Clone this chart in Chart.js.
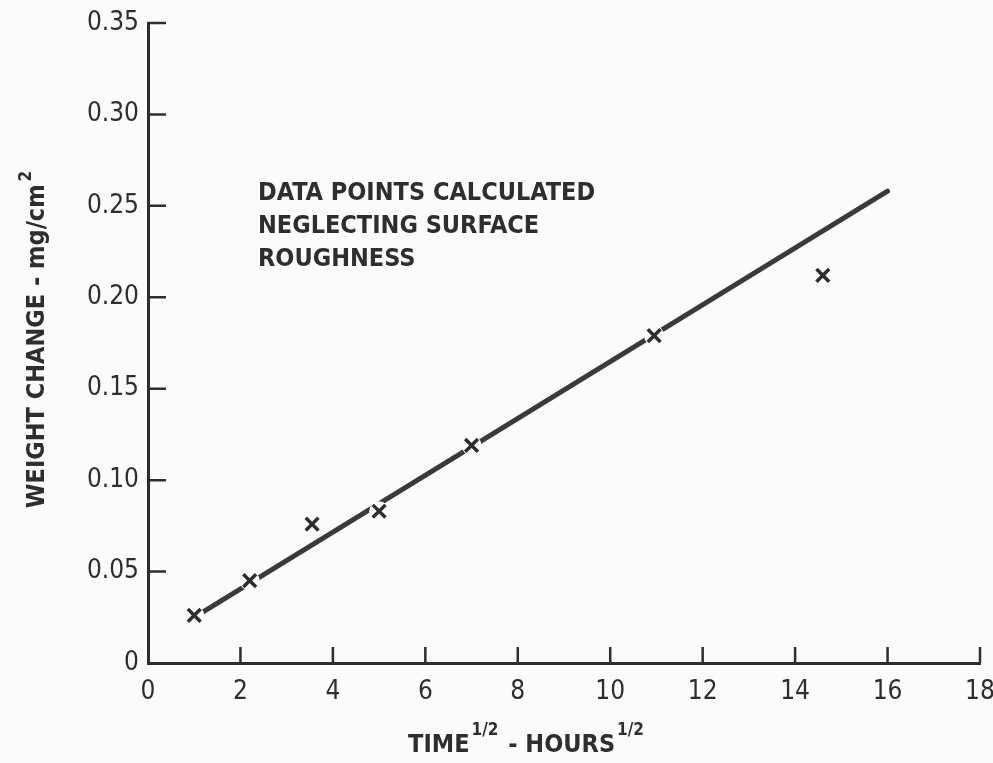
<!DOCTYPE html>
<html>
<head>
<meta charset="utf-8">
<script src="https://cdn.jsdelivr.net/npm/chart.js@4"></script>
<style>
  html, body { margin: 0; padding: 0; background: #fbfbf9; }
  #wrap { width: 993px; height: 763px; position: relative; }
</style>
</head>
<body>
<div id="wrap"><canvas id="chart" width="993" height="763"></canvas></div>
<script>
// data
const timeRoot = [1.0, 2.2, 3.55, 5.0, 7.0, 10.95, 14.6];
const weightChange = [0.026, 0.045, 0.076, 0.083, 0.119, 0.179, 0.212];
const fitX = [1.0, 16.0];
const fitY = [0.025, 0.258];
const xTickValues = [0, 2, 4, 6, 8, 10, 12, 14, 16, 18];
const yTickValues = [0, 0.05, 0.10, 0.15, 0.20, 0.25, 0.30, 0.35];
const yTickLabels = ["0", "0.05", "0.10", "0.15", "0.20", "0.25", "0.30", "0.35"];
const noteLines = ["DATA POINTS CALCULATED", "NEGLECTING SURFACE", "ROUGHNESS"];

const INK = "#2e2e2e";
const BG = "#fbfbf9";
const FONT = "'DejaVu Sans Condensed', 'Liberation Sans Narrow', 'DejaVu Sans', sans-serif";

const pts = timeRoot.map((x, i) => ({ x: x, y: weightChange[i] }));
const fit = fitX.map((x, i) => ({ x: x, y: fitY[i] }));

// inward tick marks, axis titles and the note
const extras = {
  id: "extras",
  afterDraw(chart) {
    const ctx = chart.ctx;
    const xs = chart.scales.x, ys = chart.scales.y;
    const left = chart.chartArea.left, bottom = chart.chartArea.bottom;
    ctx.save();
    ctx.strokeStyle = INK;
    ctx.lineWidth = 2.5;
    ctx.beginPath();
    xTickValues.forEach(v => {
      if (v === 0) return;
      const px = xs.getPixelForValue(v);
      ctx.moveTo(px, bottom);
      ctx.lineTo(px, bottom - 16);
    });
    yTickValues.forEach(v => {
      if (v === 0) return;
      const py = ys.getPixelForValue(v);
      ctx.moveTo(left, py);
      ctx.lineTo(left + 18, py);
    });
    ctx.stroke();

    ctx.fillStyle = INK;
    ctx.textBaseline = "alphabetic";

    // note
    ctx.font = "bold 25px " + FONT;
    ctx.textAlign = "left";
    noteLines.forEach((t, i) => ctx.fillText(t, 258, 200 + i * 33));

    // x title: TIME^1/2 - HOURS^1/2
    const big = "bold 25px " + FONT, small = "bold 17px " + FONT;
    const parts = [["TIME", big, 0], ["1/2", small, -17], [" - HOURS", big, 0], ["1/2", small, -17]];
    let w = 0;
    parts.forEach(p => { ctx.font = p[1]; w += ctx.measureText(p[0]).width + 2; });
    let cx = 527 - w / 2;
    parts.forEach(p => {
      ctx.font = p[1];
      ctx.fillText(p[0], cx, 752 + p[2]);
      cx += ctx.measureText(p[0]).width + 2;
    });

    // y title: WEIGHT CHANGE - mg/cm^2
    ctx.translate(44, 338);
    ctx.rotate(-Math.PI / 2);
    const yparts = [["WEIGHT CHANGE - mg/cm", big, 0], ["2", small, -13]];
    w = 0;
    yparts.forEach(p => { ctx.font = p[1]; w += ctx.measureText(p[0]).width + 3; });
    cx = -w / 2;
    yparts.forEach(p => {
      ctx.font = p[1];
      ctx.fillText(p[0], cx, p[2]);
      cx += ctx.measureText(p[0]).width + 3;
    });
    ctx.restore();
  }
};

new Chart(document.getElementById("chart"), {
  type: "scatter",
  data: {
    datasets: [{
      label: "Data",
      data: pts,
      pointStyle: "crossRot",
      pointRadius: 9,
      pointBorderWidth: 3.5,
      borderColor: INK,
      backgroundColor: INK
    }, {
      label: "gap",
      data: pts,
      pointStyle: "circle",
      pointRadius: 10,
      pointBorderWidth: 0,
      backgroundColor: BG,
      borderColor: BG
    }, {
      label: "Fit",
      data: fit,
      showLine: true,
      pointRadius: 0,
      borderColor: "#3a3a3a",
      borderWidth: 5,
      borderCapStyle: "round"
    }]
  },
  options: {
    responsive: false,
    animation: false,
    layout: { padding: { top: 23, right: 13, left: 0, bottom: 0 } },
    plugins: { legend: { display: false }, tooltip: { enabled: false } },
    scales: {
      x: {
        type: "linear",
        min: 0, max: 18,
        afterBuildTicks: s => { s.ticks = xTickValues.map(v => ({ value: v })); },
        afterFit: s => { s.height = 100; s.paddingRight = 0; s.paddingLeft = 0; },
        grid: { display: true, drawOnChartArea: false, drawTicks: false },
        border: { display: true, color: INK, width: 3 },
        ticks: {
          color: INK, padding: 14,
          font: { family: FONT, size: 26 },
          callback: v => String(v)
        }
      },
      y: {
        type: "linear",
        min: 0, max: 0.35,
        afterBuildTicks: s => { s.ticks = yTickValues.map(v => ({ value: v })); },
        afterFit: s => { s.width = 148; s.paddingTop = 0; s.paddingBottom = 0; },
        grid: { display: true, drawOnChartArea: false, drawTicks: false },
        border: { display: true, color: INK, width: 3 },
        ticks: {
          color: INK, padding: 9,
          font: { family: FONT, size: 26 },
          callback: (v, i) => yTickLabels[yTickValues.indexOf(v)] ?? ""
        }
      }
    }
  },
  plugins: [extras]
});
</script>
</body>
</html>
